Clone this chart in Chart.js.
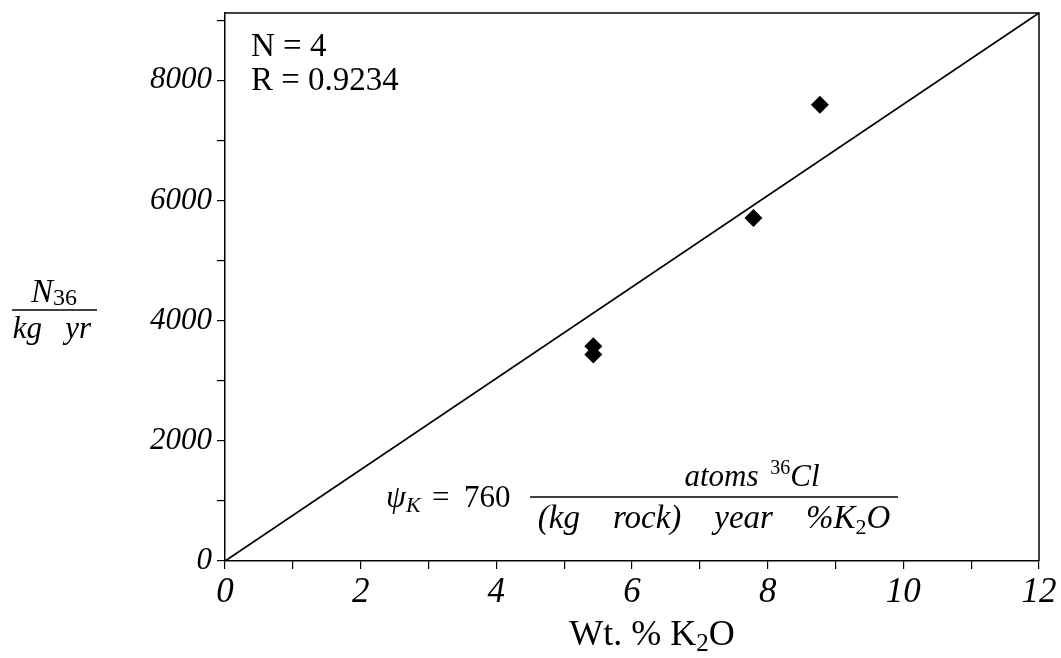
<!DOCTYPE html>
<html><head><meta charset="utf-8">
<script src="https://cdn.jsdelivr.net/npm/chart.js@4"></script>
<style>html,body{margin:0;padding:0;background:#fff}</style>
</head><body>
<canvas id="c" width="1061" height="658"></canvas>
<script>
// ---- data ----
const xPct = [5.43, 5.43, 7.79, 8.77];
const yRate = [3575, 3438, 5707, 7592];
const fitX = [0, 12];
const fitY = [0, 9120];
const xTicks = [0,1,2,3,4,5,6,7,8,9,10,11,12];
const xTickLabels = ['0','','2','','4','','6','','8','','10','','12'];
const yTicks = [0,1000,2000,3000,4000,5000,6000,7000,8000,9000];
const yTickLabels = ['0','','2000','','4000','','6000','','8000',''];
const statLines = ['N = 4', 'R = 0.9234'];

const SERIF = '"Liberation Serif", "DejaVu Serif", serif';

function drawRuns(ctx, runs, x, y, align) {
  let total = 0;
  runs.forEach(r => { ctx.font = r.font; total += ctx.measureText(r.t).width + (r.gap||0); });
  let cx = align === 'center' ? x - total/2 : x;
  runs.forEach(r => {
    ctx.font = r.font;
    ctx.fillText(r.t, cx, y + (r.dy||0));
    cx += ctx.measureText(r.t).width + (r.gap||0);
  });
  return total;
}

const annot = {
  id: 'annot',
  afterDraw(chart) {
    const ctx = chart.ctx, a = chart.chartArea;
    ctx.save();
    ctx.strokeStyle = '#000'; ctx.lineWidth = 1.5;
    ctx.beginPath();
    ctx.moveTo(a.left, a.top); ctx.lineTo(a.right, a.top); ctx.lineTo(a.right, a.bottom);
    ctx.stroke();
    ctx.fillStyle = '#000';
    ctx.textBaseline = 'alphabetic';
    ctx.textAlign = 'left';
    // stats
    ctx.font = '33px ' + SERIF;
    ctx.fillText(statLines[0], 251, 56);
    ctx.fillText(statLines[1], 251, 90);
    // y title fraction
    drawRuns(ctx, [
      {t:'N', font:'italic 33px ' + SERIF},
      {t:'36', font:'24px ' + SERIF, dy:3}
    ], 54, 302, 'center');
    ctx.beginPath(); ctx.lineWidth = 1.5;
    ctx.moveTo(12, 310); ctx.lineTo(97, 310); ctx.stroke();
    drawRuns(ctx, [{t:'kg   yr', font:'italic 31px ' + SERIF}], 52, 338, 'center');
    // x title
    drawRuns(ctx, [
      {t:'Wt. % K', font:'36px ' + SERIF},
      {t:'2', font:'25px ' + SERIF, dy:6},
      {t:'O', font:'36px ' + SERIF}
    ], 652, 645, 'center');
    // formula
    drawRuns(ctx, [
      {t:'\u03C8', font:'italic 32px ' + SERIF},
      {t:'K', font:'italic 22px ' + SERIF, dy:5}
    ], 386, 507, 'left');
    ctx.font = '31px ' + SERIF;
    ctx.fillText('=', 432, 507);
    ctx.fillText('760', 464, 507);
    ctx.beginPath(); ctx.lineWidth = 1.5;
    ctx.moveTo(530, 497); ctx.lineTo(898, 497); ctx.stroke();
    drawRuns(ctx, [
      {t:'atoms ', font:'italic 31px ' + SERIF, gap:4},
      {t:'36', font:'20px ' + SERIF, dy:-12},
      {t:'Cl', font:'italic 31px ' + SERIF}
    ], 752, 486, 'center');
    drawRuns(ctx, [
      {t:'(kg    rock)    year    %K', font:'italic 33px ' + SERIF},
      {t:'2', font:'22px ' + SERIF, dy:6},
      {t:'O', font:'italic 33px ' + SERIF}
    ], 714, 528, 'center');
    ctx.restore();
  }
};

const scatterPts = xPct.map((x,i)=>({x:x, y:yRate[i]}));
const fitPts = fitX.map((x,i)=>({x:x, y:fitY[i]}));

new Chart(document.getElementById('c'), {
  type: 'scatter',
  data: {
    datasets: [
      {type:'line', data: fitPts, borderColor:'#000', borderWidth:1.8, pointRadius:0, fill:false, tension:0, order:2},
      {type:'scatter', data: scatterPts, pointStyle:'rectRot', pointRadius:9, pointHoverRadius:9,
       backgroundColor:'#000', borderColor:'#000', borderWidth:0, order:1}
    ]
  },
  options: {
    responsive:false, animation:false,
    layout:{padding:{top:13, right:22, left:0, bottom:0}},
    plugins:{legend:{display:false}, tooltip:{enabled:false}},
    scales:{
      x:{
        type:'linear', min:0, max:12,
        afterBuildTicks: s => { s.ticks = xTicks.map(v=>({value:v})); },
        afterFit: s => { s.height = 97; s.paddingLeft = 0; s.paddingRight = 0; },
        grid:{drawOnChartArea:false, drawTicks:true, tickLength:8, color:'#000', tickColor:'#000', lineWidth:1.2},
        border:{display:true, color:'#000', width:1.5},
        ticks:{color:'#000', font:{family:SERIF, size:35, style:'italic'}, padding:3, maxRotation:0, autoSkip:false,
          callback: v => { const i = xTicks.indexOf(v); return i < 0 ? '' : xTickLabels[i]; }}
      },
      y:{
        type:'linear', min:0, max:9120,
        afterBuildTicks: s => { s.ticks = yTicks.map(v=>({value:v})); },
        afterFit: s => { s.width = 225; s.paddingTop = 0; s.paddingBottom = 0; },
        grid:{drawOnChartArea:false, drawTicks:true, tickLength:8, color:'#000', tickColor:'#000', lineWidth:1.2},
        border:{display:true, color:'#000', width:1.5},
        ticks:{color:'#000', font:{family:SERIF, size:31, style:'italic'}, padding:5, autoSkip:false,
          callback: v => { const i = yTicks.indexOf(v); return i < 0 ? '' : yTickLabels[i]; }}
      }
    }
  },
  plugins:[annot]
});
</script>
</body></html>
